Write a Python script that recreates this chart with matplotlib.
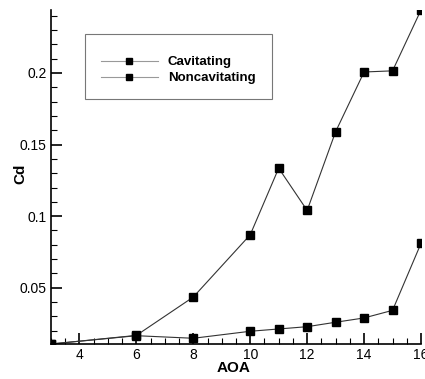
import matplotlib
matplotlib.use("Agg")
import matplotlib.pyplot as plt
from matplotlib.ticker import MultipleLocator
from matplotlib.patches import Rectangle

plt.rcParams['font.family'] = ['Liberation Sans', 'DejaVu Sans']

# data
aoa_cav = [3, 6, 8, 10, 11, 12, 13, 14, 15, 16]
cd_cav = [0.0107, 0.0167, 0.0435, 0.087, 0.1335, 0.104, 0.159, 0.2007, 0.2015, 0.244]

aoa_noncav = [3, 6, 8, 10, 11, 12, 13, 14, 15, 16]
cd_noncav = [0.0107, 0.0165, 0.0147, 0.0196, 0.0212, 0.0228, 0.0259, 0.0289, 0.0342, 0.081]

xticks = [4, 6, 8, 10, 12, 14, 16]
yticks = [0.05, 0.1, 0.15, 0.2]
ytick_labels = ["0.05", "0.1", "0.15", "0.2"]

W, H = 425, 379
fig = plt.figure(figsize=(W / 100, H / 100), dpi=100)
ax = fig.add_axes([51 / W, 1 - 344 / H, 370 / W, 334 / H])

style = dict(color='#333333', lw=0.8, marker='s', markersize=5.2,
             markerfacecolor='black', markeredgecolor='black')
ax.plot(aoa_cav, cd_cav, label='Cavitating', **style)
ax.plot(aoa_noncav, cd_noncav, label='Noncavitating', **style)

ax.set_xlim(3, 16)
ax.set_ylim(min(cd_cav), max(cd_cav))
ax.spines['top'].set_visible(False)
ax.spines['right'].set_visible(False)
for s in ['left', 'bottom']:
    ax.spines[s].set_linewidth(1.2)
    ax.spines[s].set_color('black')

ax.set_xticks(xticks)
ax.set_yticks(yticks)
ax.set_yticklabels(ytick_labels)
ax.xaxis.set_minor_locator(MultipleLocator(0.5))
ax.yaxis.set_minor_locator(MultipleLocator(0.01))
ax.tick_params(which='major', direction='in', length=8, width=1.2, labelsize=10, pad=3)
ax.tick_params(which='minor', direction='in', length=4, width=0.8)
ax.patch.set_alpha(0)

ax.set_xlabel('AOA', fontsize=11, fontweight='bold')
ax.set_ylabel('Cd', fontsize=11, fontweight='bold')
ax.xaxis.label.set_va('center')
ax.yaxis.label.set_va('center')
ax.xaxis.set_label_coords((234 - 51) / 370, (344 - 368) / 334)
ax.yaxis.set_label_coords((20 - 51) / 370, (344 - 174) / 334)

# legend frame drawn separately so the rows can sit low in the box
frame = Rectangle((85 / W, 1 - 99 / H), 187 / W, 65 / H,
                  transform=fig.transFigure, facecolor='white',
                  edgecolor='#777777', lw=0.8, zorder=4, clip_on=False)
ax.add_patch(frame)
leg = ax.legend(loc='upper left', bbox_to_anchor=(101 / W, 1 - 56 / H),
                bbox_transform=fig.transFigure, borderaxespad=0,
                frameon=False, handlelength=4.3, handletextpad=0.75,
                labelspacing=0.3, borderpad=0, markerscale=0.95,
                prop={'weight': 'bold', 'size': 9.5})
leg.set_zorder(5)
for ln in leg.get_lines():
    ln.set_color('#999999')

fig.savefig('out.png', dpi=100)
